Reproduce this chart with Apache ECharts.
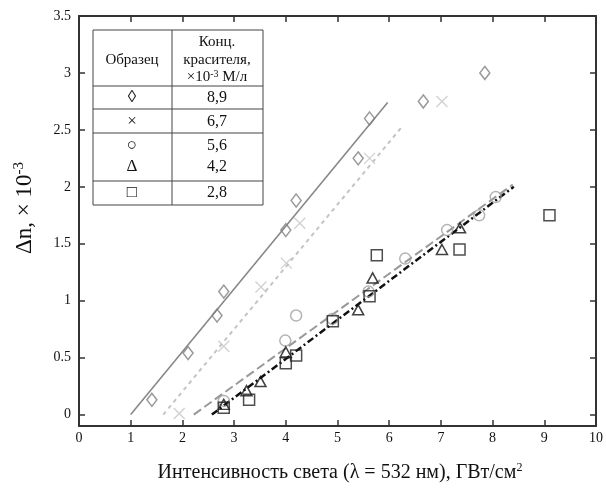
<!DOCTYPE html>
<html><head><meta charset="utf-8">
<script src="https://cdn.jsdelivr.net/npm/echarts@6/dist/echarts.min.js"></script>
<style>html,body{margin:0;padding:0;background:#fff}#c{width:606px;height:489px}</style>
</head><body><div id="c"></div>
<script>
const xTicks = [0,1,2,3,4,5,6,7,8,9,10];
const yTicks = [0,0.5,1,1.5,2,2.5,3,3.5];
const diamonds = [[1.41,0.13],[2.11,0.54],[2.67,0.87],[2.80,1.08],[4.0,1.62],[4.2,1.88],[5.40,2.25],[5.62,2.60],[6.66,2.75],[7.85,3.0]];
const crosses = [[1.94,0.01],[2.80,0.60],[3.52,1.12],[4.01,1.33],[4.27,1.68],[5.62,2.25],[7.02,2.75]];
const circles = [[2.80,0.12],[3.99,0.65],[4.2,0.87],[4.9,0.84],[5.6,1.08],[6.31,1.37],[7.12,1.62],[7.74,1.75],[8.06,1.91]];
const triangles = [[2.80,0.09],[3.24,0.21],[3.51,0.29],[4.0,0.55],[5.40,0.92],[5.68,1.20],[7.02,1.45],[7.37,1.64]];
const squares = [[2.80,0.06],[3.29,0.13],[4.0,0.45],[4.2,0.52],[4.91,0.82],[5.62,1.04],[5.76,1.40],[7.36,1.45],[9.10,1.75]];
const fitDiamond = [[1.0,0],[5.97,2.74]];
const fitCross = [[1.63,0],[6.27,2.54]];
const fitCircle = [[2.22,0],[8.39,2.02]];
const fitSquare = [[2.57,0],[8.41,2.0]];
const legendSymbols = ['◊','×','○','Δ','□'];
const legendValues = ['8,9','6,7','5,6','4,2','2,8'];

const SERIF = '"Liberation Serif","DejaVu Serif",serif';
const chart = echarts.init(document.getElementById('c'), null, {renderer:'canvas'});
const axCol = '#333';
function xAx(pos, showLabel){
  return {type:'value', position:pos, min:0, max:10, gridIndex:0,
    axisLine:{show:true, onZero:false, lineStyle:{color:axCol,width:2}},
    axisTick:{show:true, inside:true, length:6, customValues:xTicks, lineStyle:{color:axCol,width:1.5}},
    axisLabel:{show:showLabel, customValues:xTicks, fontFamily:SERIF, fontSize:14, color:'#111', margin:5},
    splitLine:{show:false}};
}
function yAx(pos, showLabel){
  return {type:'value', position:pos, min:-0.1, max:3.5, gridIndex:0,
    axisLine:{show:true, onZero:false, lineStyle:{color:axCol,width:2}},
    axisTick:{show:true, inside:true, length:6, customValues:yTicks, lineStyle:{color:axCol,width:1.5}},
    axisLabel:{show:showLabel, customValues:yTicks, fontFamily:SERIF, fontSize:14, color:'#111', margin:8},
    splitLine:{show:false}};
}
function sc(data, symbol, size, color, bw){
  return {type:'scatter', data:data, symbol:symbol, symbolSize:size, z:3,
    itemStyle:{color:'rgba(0,0,0,0)', borderColor:color, borderWidth:bw}};
}
function ln(data, color, width, type){
  return {type:'line', data:data, symbol:'none', z:2,
    lineStyle:{color:color, width:width, type:type}};
}
const tL=93, tR=263, tT=30, tB=205, tMid=172;
const rowLines=[86,109,133,181];
const rowY=[98,122,146,167,193];
const g=[];
g.push({type:'rect', shape:{x:tL,y:tT,width:tR-tL,height:tB-tT}, style:{fill:'#fff',stroke:'#444',lineWidth:1}, z:10});
g.push({type:'line', shape:{x1:tMid,y1:tT,x2:tMid,y2:tB}, style:{stroke:'#444',lineWidth:1}, z:11});
rowLines.forEach(y=>g.push({type:'line', shape:{x1:tL,y1:y,x2:tR,y2:y}, style:{stroke:'#444',lineWidth:1}, z:11}));
const txt=(x,y,t,fs)=>({type:'text', x:x, y:y, z:12, style:{text:t, x:0,y:0, align:'center', verticalAlign:'middle', font:fs+'px '+SERIF, fill:'#111'}});
g.push(txt(132,60,'Образец',15));
g.push(txt(217,42,'Конц.',15));
g.push(txt(217,60,'красителя,',15));
g.push({type:'text', x:217, y:77, z:12, style:{text:'×10{s|-3} М/л', x:0,y:0, align:'center', verticalAlign:'middle', font:'15px '+SERIF, fill:'#111',
  rich:{s:{fontSize:10, fontFamily:SERIF, fill:'#111', verticalAlign:'top', lineHeight:14, padding:[0,0,6,0]}}}});
legendSymbols.forEach((s,i)=>{ g.push(txt(132,rowY[i],s,17)); g.push(txt(217,rowY[i],legendValues[i],16)); });
g.push({type:'text', x:340, y:473, z:12, style:{text:'Интенсивность света (λ = 532 нм), ГВт/см{s|2}', x:0,y:0, align:'center', verticalAlign:'middle', font:'20px '+SERIF, fill:'#111',
  rich:{s:{fontSize:12, fontFamily:SERIF, fill:'#111', verticalAlign:'top', padding:[0,0,10,0]}}}});
g.push({type:'text', x:25, y:208, rotation:Math.PI/2, z:12, style:{text:'Δn, × 10{s|-3}', x:0,y:0, align:'center', verticalAlign:'middle', font:'23px '+SERIF, fill:'#111',
  rich:{s:{fontSize:15, fontFamily:SERIF, fill:'#111', verticalAlign:'top', padding:[0,0,12,0]}}}});

chart.setOption({
  animation:false,
  backgroundColor:'#fff',
  grid:{left:79, right:10, top:16, bottom:63, containLabel:false},
  xAxis:[xAx('bottom',true), xAx('top',false)],
  yAxis:[yAx('left',true), yAx('right',false)],
  graphic:g,
  series:[
    ln(fitDiamond,'#888',1.6,'solid'),
    ln(fitCross,'#c4c4c4',2,[4,4]),
    ln(fitCircle,'#999',2,[9,4]),
    ln(fitSquare,'#111',2.5,[7,3,2,3]),
    sc(diamonds,'diamond',[10,13],'#808080',1.5),
    sc(crosses,'path://M0,0L10,10M10,0L0,10',11,'#c4c4c4',1.3),
    sc(circles,'circle',11,'#a0a0a0',1.5),
    sc(triangles,'triangle',[11,10],'#111',1.5),
    sc(squares,'rect',11,'#222',1.5)
  ]
});
</script></body></html>
